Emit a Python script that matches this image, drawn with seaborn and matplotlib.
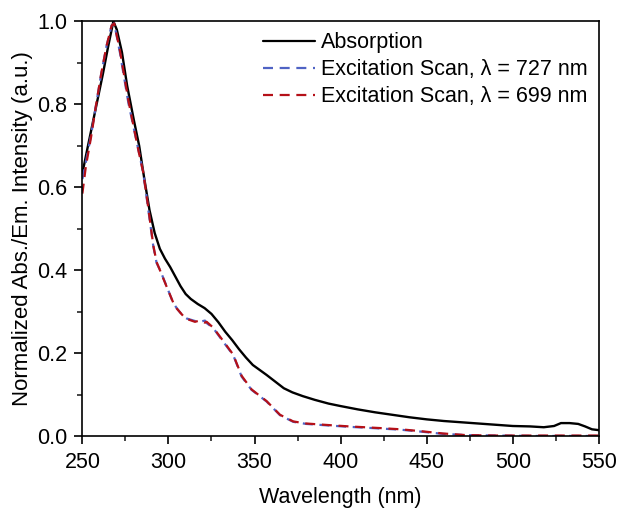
import numpy as np
import pandas as pd
import matplotlib
matplotlib.use("Agg")
import matplotlib.pyplot as plt
import seaborn as sns
from matplotlib.ticker import MultipleLocator

# absorption spectrum
abs_wl = [250, 253, 256, 259, 262, 265, 268, 270, 273, 276, 280, 283, 286, 289,
          292, 295, 298, 301, 304, 307, 310, 313, 317, 321, 325, 329, 333, 337, 341,
          345, 349, 353, 357, 362, 367, 372, 378, 385, 393, 400, 410, 420, 430,
          440, 450, 460, 470, 480, 490, 500, 510, 518, 524, 528, 533, 538, 542,
          546, 550]
abs_val = [0.634, 0.695, 0.755, 0.815, 0.875, 0.94, 1.0, 0.98, 0.925, 0.845,
           0.76, 0.70, 0.62, 0.545, 0.49, 0.452, 0.428, 0.408, 0.385, 0.362,
           0.343, 0.331, 0.319, 0.309, 0.295, 0.275, 0.252, 0.232, 0.21, 0.19,
           0.172, 0.16, 0.148, 0.132, 0.116, 0.106, 0.097, 0.088, 0.079, 0.073,
           0.065, 0.058, 0.052, 0.046, 0.041, 0.037, 0.034, 0.031, 0.028, 0.025,
           0.024, 0.022, 0.025, 0.032, 0.032, 0.030, 0.024, 0.017, 0.015]

# excitation scans
exc_wl = [250, 252, 255, 258, 261, 264, 267, 268.5, 271.8, 276.7, 282.5, 285.4,
          288.3, 291.2, 293.1, 295.1, 299, 302.8, 304.8, 308.6, 310.6, 315.4,
          318, 321.2, 322.2, 326, 331.8, 337.6, 342.5, 348.3, 357, 364.8,
          372.5, 380, 393.8, 405, 422.9, 435, 447.8, 459.4, 473, 490, 510, 530,
          550]
# emission at 727 nm
exc727 = [0.62, 0.66, 0.725, 0.80, 0.875, 0.94, 0.99, 0.995, 0.925, 0.804,
          0.691, 0.634, 0.546, 0.458, 0.418, 0.401, 0.361, 0.321, 0.309, 0.289,
          0.284, 0.278, 0.276, 0.279, 0.273, 0.261, 0.228, 0.196, 0.144, 0.112,
          0.084, 0.051, 0.035, 0.030, 0.026, 0.023, 0.019, 0.016, 0.011, 0.006,
          0.003, 0.002, 0.001, 0.001, 0.001]
# emission at 699 nm
exc699 = [0.585, 0.65, 0.72, 0.80, 0.875, 0.94, 0.99, 0.995, 0.93, 0.81,
          0.69, 0.635, 0.55, 0.46, 0.42, 0.40, 0.36, 0.322, 0.308, 0.29,
          0.283, 0.276, 0.279, 0.274, 0.276, 0.262, 0.23, 0.197, 0.146, 0.113,
          0.085, 0.052, 0.036, 0.031, 0.027, 0.024, 0.02, 0.017, 0.012, 0.007,
          0.003, 0.002, 0.002, 0.002, 0.002]

labels = ["Absorption", "Excitation Scan, \u03bb = 727 nm", "Excitation Scan, \u03bb = 699 nm"]

sns.set_theme(style="ticks")
plt.rcParams["font.family"] = ["Liberation Sans", "DejaVu Sans"]
plt.rcParams["text.color"] = "black"
plt.rcParams["axes.labelcolor"] = "black"

fig = plt.figure(figsize=(6.18, 5.08), dpi=100)
ax = fig.add_axes([0.1333, 0.141, 0.8357, 0.817])

sns.lineplot(x=abs_wl, y=abs_val, ax=ax, color="black", linewidth=1.7, label=labels[0])
sns.lineplot(x=exc_wl, y=exc727, ax=ax, color="#4f63c4", linewidth=1.6, label=labels[1])
sns.lineplot(x=exc_wl, y=exc699, ax=ax, color="#b51018", linewidth=1.6, label=labels[2])
ax.lines[1].set_dashes((4.5, 3))
ax.lines[2].set_dashes((4.5, 3))

ax.set_xlim(250, 550)
ax.set_ylim(0, 1.0)
ax.xaxis.set_major_locator(MultipleLocator(50))
ax.xaxis.set_minor_locator(MultipleLocator(25))
ax.yaxis.set_major_locator(MultipleLocator(0.2))
ax.yaxis.set_minor_locator(MultipleLocator(0.1))
ax.yaxis.set_major_formatter(matplotlib.ticker.FormatStrFormatter("%.1f"))
ax.tick_params(which="major", direction="out", length=6, width=1.2, labelsize=15.5,
               colors="black", top=False, right=False, pad=5)
ax.tick_params(which="minor", direction="out", length=3.5, width=1.2,
               top=False, right=False)
for s in ax.spines.values():
    s.set_visible(True)
    s.set_linewidth(1.2)
    s.set_color("black")

ax.set_xlabel("Wavelength (nm)", fontsize=15.5, labelpad=10)
ax.set_ylabel("Normalized Abs./Em. Intensity (a.u.)", fontsize=16, labelpad=3)

leg = ax.legend(loc="upper right", bbox_to_anchor=(1.0, 1.0), frameon=False,
                fontsize=15.5, handlelength=2.4, handletextpad=0.3,
                labelspacing=0.28, borderaxespad=0.1)
for h in leg.get_lines():
    h.set_linewidth(1.6)
    if h.get_color() != "black":
        h.set_dashes((4.5, 3))

fig.savefig("out.png", dpi=100)
